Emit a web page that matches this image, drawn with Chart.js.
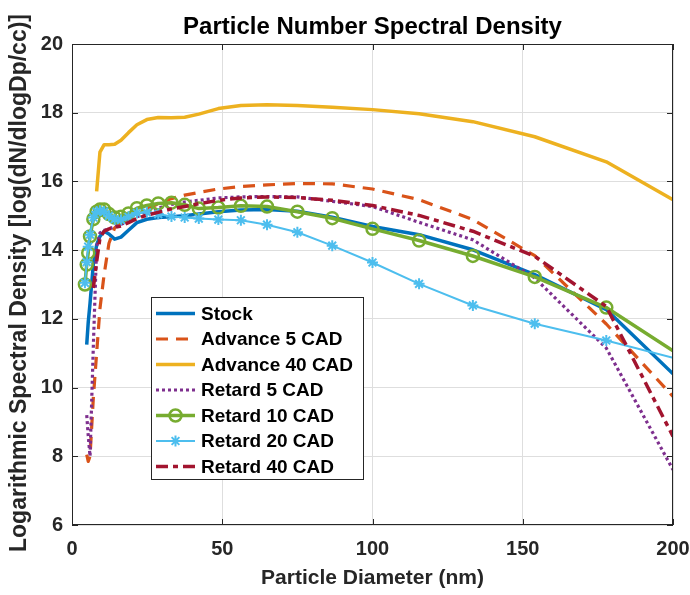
<!DOCTYPE html>
<html><head><meta charset="utf-8">
<script src="https://cdn.jsdelivr.net/npm/chart.js@4.4.1/dist/chart.umd.min.js"></script>
<style>html,body{margin:0;padding:0;background:#fff;}</style>
</head><body>
<canvas id="c" width="690" height="595"></canvas>
<script>
// ---- data ----
const diameters = [4.3, 4.9, 5.4, 6.0, 7.1, 8.2, 9.3, 10.7, 12.3, 14.2, 16.3, 18.8, 21.6, 24.9, 28.7, 33.1, 37.5, 42.2, 48.7, 56.2, 64.9, 75.0, 86.6, 100, 115.5, 133.4, 154.0, 177.8, 200];
const stock     = [null, 11.25, 11.9, 12.45, 13.6, 14.15, 14.4, 14.55, 14.47, 14.32, 14.38, 14.58, 14.8, 14.9, 14.95, 14.97, 15.0, 15.05, 15.12, 15.17, 15.18, 15.13, 14.96, 14.69, 14.45, 14.01, 13.29, 12.27, 10.40];
const advance5  = [null, 8.05, 7.85, 8.0, 9.7, 11.0, 12.3, 13.3, 14.2, 14.65, 14.82, 14.95, 15.08, 15.2, 15.35, 15.5, 15.6, 15.68, 15.78, 15.85, 15.9, 15.94, 15.93, 15.78, 15.47, 14.89, 13.84, 11.85, 9.74];
const advance40 = [null, null, null, null, null, 15.71, 16.85, 17.07, 17.07, 17.08, 17.2, 17.42, 17.65, 17.8, 17.86, 17.85, 17.87, 17.96, 18.12, 18.21, 18.23, 18.21, 18.16, 18.09, 17.97, 17.74, 17.3, 16.57, 15.47];
const retard5   = [null, 9.2, 8.6, 8.0, 11.2, 14.1, 14.5, 14.58, 14.62, 14.68, 14.75, 14.84, 14.97, 15.1, 15.22, 15.33, 15.4, 15.45, 15.52, 15.55, 15.56, 15.55, 15.42, 15.27, 14.81, 14.3, 13.19, 11.15, 7.61];
const retard10  = [13.0, 13.58, 13.92, 14.4, 14.9, 15.12, 15.18, 15.18, 15.05, 14.95, 14.97, 15.07, 15.22, 15.3, 15.36, 15.38, 15.32, 15.21, 15.24, 15.29, 15.27, 15.12, 14.93, 14.62, 14.28, 13.83, 13.22, 12.33, 11.07];
const retard20  = [13.05, 13.65, 14.1, 14.45, 14.95, 15.12, 15.15, 15.12, 15.0, 14.9, 14.88, 14.97, 15.08, 15.1, 15.05, 14.98, 14.95, 14.92, 14.89, 14.87, 14.74, 14.52, 14.13, 13.64, 13.02, 12.39, 11.86, 11.37, 10.87];
const retard40  = [null, null, null, null, 12.9, 13.67, 14.35, 14.55, 14.62, 14.66, 14.7, 14.8, 14.92, 15.02, 15.1, 15.2, 15.27, 15.35, 15.45, 15.52, 15.55, 15.53, 15.45, 15.3, 15.01, 14.55, 13.82, 12.36, 8.58];

const seriesNames = ['Stock', 'Advance 5 CAD', 'Advance 40 CAD', 'Retard 5 CAD', 'Retard 10 CAD', 'Retard 20 CAD', 'Retard 40 CAD'];
const xTickValues = [0, 50, 100, 150, 200];
const yTickValues = [6, 8, 10, 12, 14, 16, 18, 20];
const titleText = 'Particle Number Spectral Density';
const xTitleText = 'Particle Diameter (nm)';
const yTitleText = 'Logarithmic Spectral Density [log(dN/dlogDp/cc)]';

// ---- styling ----
const FONT = '"Liberation Sans", Arial, Helvetica, sans-serif';
const TXT = '#262626';
const lastIdx = diameters.length - 1;
const noLastMarker = r => (c => c.dataIndex === lastIdx ? 0 : r);

function pts(vals) { return diameters.map((d, i) => ({x: d, y: vals[i]})); }

const styles = [
  {data: stock,     color: '#0072BD', width: 3.5, dash: [],             point: false},
  {data: advance5,  color: '#D95319', width: 3.2, dash: [12, 8],        point: false},
  {data: advance40, color: '#EDB120', width: 3.5, dash: [],             point: false},
  {data: retard5,   color: '#7E2F8E', width: 3.2, dash: [3, 3],         point: false},
  {data: retard10,  color: '#77AC30', width: 3.5, dash: [],             point: 'circle', r: 6, bw: 2.5},
  {data: retard20,  color: '#4DBEEE', width: 2,   dash: [],             point: 'star',   r: 5.5, bw: 2},
  {data: retard40,  color: '#A2142F', width: 3.5, dash: [12, 5, 5, 5],  point: false}
];

const datasets = styles.map((s, i) => ({
  label: seriesNames[i],
  data: pts(s.data),
  borderColor: s.color,
  backgroundColor: 'rgba(0,0,0,0)',
  borderWidth: s.width,
  borderDash: s.dash,
  borderCapStyle: 'butt',
  borderJoinStyle: 'round',
  tension: 0,
  spanGaps: false,
  pointStyle: s.point || 'circle',
  pointRadius: s.point ? noLastMarker(s.r) : 0,
  pointBorderWidth: s.bw || 0,
  pointBorderColor: s.color,
  pointBackgroundColor: 'rgba(0,0,0,0)',
  pointHoverRadius: 0,
  order: styles.length - i,
  _legendR: s.r, _legendBW: s.bw, _legendPoint: s.point
}));

const overlay = {
  id: 'overlay',
  afterDraw(chart) {
    const ctx = chart.ctx, a = chart.chartArea, xs = chart.scales.x, ys = chart.scales.y;
    ctx.save();
    // frame
    ctx.strokeStyle = TXT; ctx.lineWidth = 1; ctx.setLineDash([]);
    ctx.strokeRect(a.left + 0.5, a.top + 0.5, a.right - a.left - 1, a.bottom - a.top - 1);
    // inside ticks
    ctx.beginPath();
    xTickValues.forEach(v => {
      const p = Math.round(xs.getPixelForValue(v)) + 0.5;
      ctx.moveTo(p, a.bottom); ctx.lineTo(p, a.bottom - 6);
      ctx.moveTo(p, a.top); ctx.lineTo(p, a.top + 6);
    });
    yTickValues.forEach(v => {
      const p = Math.round(ys.getPixelForValue(v)) + 0.5;
      ctx.moveTo(a.left, p); ctx.lineTo(a.left + 6, p);
      ctx.moveTo(a.right, p); ctx.lineTo(a.right - 6, p);
    });
    ctx.stroke();

    // titles
    ctx.fillStyle = '#000';
    ctx.textAlign = 'center'; ctx.textBaseline = 'middle';
    ctx.font = 'bold 24px ' + FONT;
    ctx.fillText(titleText, (a.left + a.right) / 2, 27);
    ctx.fillStyle = TXT;
    ctx.font = 'bold 21px ' + FONT;
    ctx.fillText(xTitleText, (a.left + a.right) / 2, 578);
    ctx.save();
    ctx.translate(20, 283);
    ctx.rotate(-Math.PI / 2);
    ctx.font = 'bold 23px ' + FONT;
    ctx.fillText(yTitleText, 0, 0);
    ctx.restore();

    // legend
    const bx = 151, by = 297, bw = 212, bh = 182;
    ctx.fillStyle = '#fff';
    ctx.fillRect(bx, by, bw, bh);
    ctx.strokeStyle = TXT; ctx.lineWidth = 1;
    ctx.strokeRect(bx + 0.5, by + 0.5, bw, bh);
    chart.data.datasets.forEach((ds, i) => {
      const y = 313.5 + i * 25.5;
      ctx.save();
      ctx.strokeStyle = ds.borderColor;
      ctx.lineWidth = ds.borderWidth;
      ctx.lineCap = 'butt';
      ctx.setLineDash(ds.borderDash);
      ctx.beginPath(); ctx.moveTo(156, y); ctx.lineTo(195, y); ctx.stroke();
      ctx.setLineDash([]);
      if (ds._legendPoint) {
        ctx.fillStyle = 'rgba(0,0,0,0)';
        ctx.strokeStyle = ds.borderColor; ctx.lineWidth = ds._legendBW;
        Chart.helpers.drawPoint(ctx, {pointStyle: ds._legendPoint, radius: ds._legendR, borderWidth: ds._legendBW, rotation: 0}, 175.5, y);
      }
      ctx.restore();
      ctx.fillStyle = '#000';
      ctx.textAlign = 'left'; ctx.textBaseline = 'middle';
      ctx.font = 'bold 19px ' + FONT;
      ctx.fillText(ds.label, 201, y + 1);
    });
    ctx.restore();
  }
};

new Chart(document.getElementById('c'), {
  type: 'line',
  data: {datasets},
  plugins: [overlay],
  options: {
    responsive: false,
    devicePixelRatio: 1,
    animation: false,
    events: [],
    layout: {padding: {left: 0, right: 17, top: 44, bottom: 0}},
    plugins: {legend: {display: false}, title: {display: false}, tooltip: {enabled: false}},
    scales: {
      x: {
        type: 'linear', min: 0, max: 200,
        afterBuildTicks: s => { s.ticks = xTickValues.map(v => ({value: v})); },
        afterFit: s => { s.height = 70; s.paddingLeft = 0; s.paddingRight = 0; },
        grid: {color: '#dedede', lineWidth: 1, drawTicks: false},
        border: {display: false},
        ticks: {color: TXT, font: {family: FONT, size: 20, weight: 'bold'}, padding: 12, maxRotation: 0}
      },
      y: {
        type: 'linear', min: 6, max: 20,
        afterBuildTicks: s => { s.ticks = yTickValues.map(v => ({value: v})); },
        afterFit: s => { s.width = 72; s.paddingTop = 0; s.paddingBottom = 0; },
        grid: {color: '#dedede', lineWidth: 1, drawTicks: false},
        border: {display: false},
        ticks: {color: TXT, font: {family: FONT, size: 20, weight: 'bold'}, padding: 9}
      }
    }
  }
});
</script>
</body></html>
